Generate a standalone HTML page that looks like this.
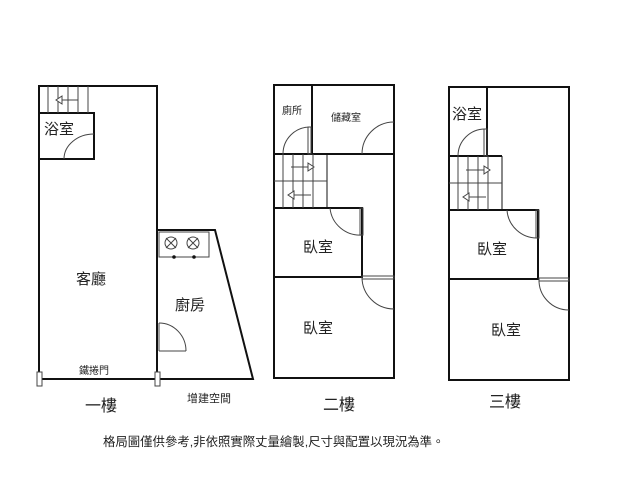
<!DOCTYPE html>
<html><head><meta charset="utf-8"><style>
html,body{margin:0;padding:0;background:#fff;width:640px;height:480px;overflow:hidden}
text{font-family:"Liberation Sans","Noto Sans CJK TC",sans-serif;fill:#222}
</style></head><body>
<svg width="640" height="480" viewBox="0 0 640 480" xmlns="http://www.w3.org/2000/svg">
<g fill="none" stroke="#111" stroke-width="2">
<!-- Floor 1 -->
<path d="M39 379 V86 H157 V379"/>
<path d="M39 113 H94 V159 H39"/>
<path d="M157 230 H215 L253 379 H157"/>
<line x1="39" y1="379" x2="157" y2="379"/>
</g>
<g fill="none" stroke="#444" stroke-width="1">
<line x1="48" y1="86" x2="48" y2="113"/><line x1="58" y1="86" x2="58" y2="113"/><line x1="68" y1="86" x2="68" y2="113"/><line x1="78" y1="86" x2="78" y2="113"/><line x1="88" y1="86" x2="88" y2="113"/>
<line x1="58" y1="100" x2="78" y2="100"/><path d="M62 96 L56 100 L62 104 Z" fill="#fff"/>
<path d="M64 159 A30 25 0 0 1 94 134"/>
<rect x="159" y="232" width="50" height="25"/>
<circle cx="171" cy="243" r="6"/><circle cx="193" cy="243" r="6"/>
<path d="M166 238 L176 248 M176 238 L166 248 M188 238 L198 248 M198 238 L188 248"/>
<line x1="159" y1="323" x2="159" y2="351"/><line x1="159" y1="351" x2="186" y2="351"/>
<path d="M159 323 A27 28 0 0 1 186 351"/>
<rect x="37" y="372" width="5" height="14" fill="#fff"/><rect x="155" y="372" width="5" height="14" fill="#fff"/>
</g>
<circle cx="174" cy="257" r="1.8" fill="#111"/><circle cx="194" cy="257" r="1.8" fill="#111"/>
<!-- Floor 2 -->
<g fill="none" stroke="#111" stroke-width="2">
<rect x="274" y="85" width="120" height="293"/>
<line x1="312" y1="85" x2="312" y2="154"/>
<line x1="274" y1="154" x2="394" y2="154" />
<path d="M274 208 H362 V277 H274"/>
<line x1="327" y1="154" x2="327" y2="208" stroke-width="1"/>
</g>
<g fill="none" stroke="#444" stroke-width="1">
<line x1="283" y1="154" x2="283" y2="208"/><line x1="293" y1="154" x2="293" y2="208"/><line x1="303" y1="154" x2="303" y2="208"/><line x1="313" y1="154" x2="313" y2="208"/>
<line x1="274" y1="181" x2="327" y2="181"/>
<line x1="291" y1="167" x2="308" y2="167"/><path d="M308 163 L314 167 L308 171 Z" fill="#fff"/>
<line x1="294" y1="195" x2="311" y2="195"/><path d="M294 191 L288 195 L294 199 Z" fill="#fff"/>
<path d="M283 154 A27 27 0 0 1 310 127"/><rect x="308" y="127" width="3" height="27"/>
<path d="M362 154 A32 32 0 0 1 394 122"/>
<path d="M330 208 A30 30 0 0 0 362 235"/><rect x="360" y="208" width="3" height="27"/>
<path d="M362 277 A32 32 0 0 0 394 309"/><rect x="362" y="276" width="32" height="3"/>
</g>
<!-- Floor 3 -->
<g fill="none" stroke="#111" stroke-width="2">
<rect x="449" y="87" width="120" height="293"/>
<line x1="487" y1="87" x2="487" y2="156"/>
<line x1="449" y1="156" x2="502" y2="156"/>
<path d="M449 210 H538 V279 H449"/>
<line x1="502" y1="156" x2="502" y2="210" stroke-width="1"/>
</g>
<g fill="none" stroke="#444" stroke-width="1">
<line x1="458" y1="156" x2="458" y2="210"/><line x1="468" y1="156" x2="468" y2="210"/><line x1="478" y1="156" x2="478" y2="210"/><line x1="488" y1="156" x2="488" y2="210"/>
<line x1="449" y1="183" x2="502" y2="183"/>
<line x1="466" y1="170" x2="484" y2="170"/><path d="M484 166 L490 170 L484 174 Z" fill="#fff"/>
<line x1="469" y1="197" x2="486" y2="197"/><path d="M469 193 L463 197 L469 201 Z" fill="#fff"/>
<path d="M458 156 A27 27 0 0 1 485 129"/><rect x="484" y="129" width="3" height="27"/>
<path d="M507 210 A30 30 0 0 0 538 238"/><rect x="536" y="210" width="3" height="28"/>
<path d="M539 279 A30 30 0 0 0 569 310"/><rect x="539" y="278" width="30" height="3"/>
</g>
<!-- Labels -->
<text x="59" y="134" font-size="15" text-anchor="middle">浴室</text>
<text x="91" y="284" font-size="15" text-anchor="middle">客廳</text>
<text x="190" y="310" font-size="15" text-anchor="middle">廚房</text>
<text x="94" y="374" font-size="10" text-anchor="middle">鐵捲門</text>
<text x="101" y="411" font-size="16" text-anchor="middle">一樓</text>
<text x="209" y="402" font-size="11" text-anchor="middle">增建空間</text>
<text x="292" y="114" font-size="10" text-anchor="middle">廁所</text>
<text x="346" y="121" font-size="10" text-anchor="middle">儲藏室</text>
<text x="318" y="252" font-size="15" text-anchor="middle">臥室</text>
<text x="318" y="333" font-size="15" text-anchor="middle">臥室</text>
<text x="339" y="410" font-size="16" text-anchor="middle">二樓</text>
<text x="467" y="119" font-size="15" text-anchor="middle">浴室</text>
<text x="492" y="254" font-size="15" text-anchor="middle">臥室</text>
<text x="506" y="335" font-size="15" text-anchor="middle">臥室</text>
<text x="505" y="407" font-size="16" text-anchor="middle">三樓</text>
<text x="103" y="446" font-size="12.4">格局圖僅供參考,非依照實際丈量繪製,尺寸與配置以現況為準。</text>
</svg>
</body></html>
